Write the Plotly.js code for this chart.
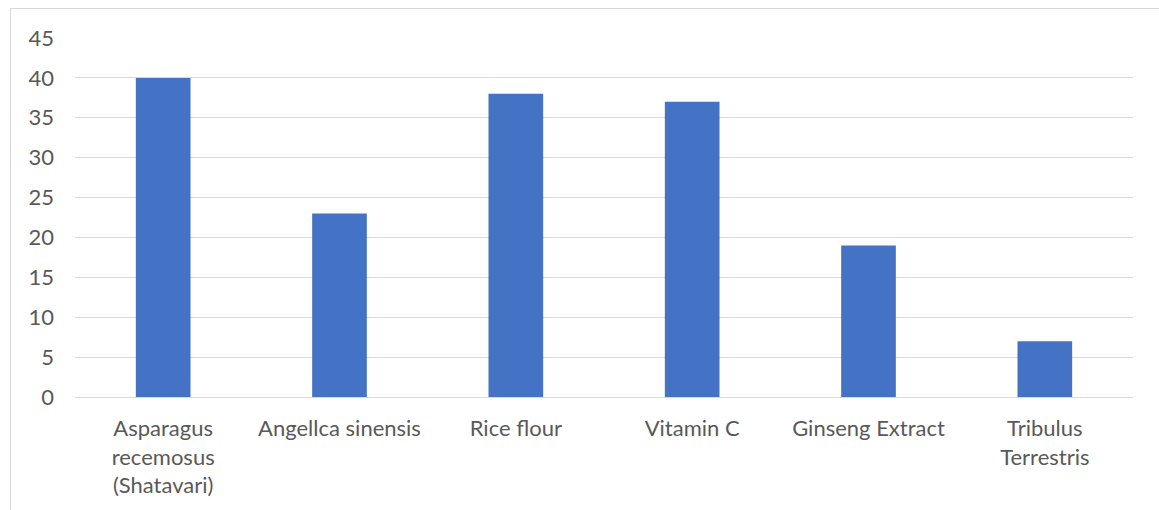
<!DOCTYPE html>
<html>
<head>
<meta charset="utf-8">
<script src="https://cdn.plot.ly/plotly-3.0.1.min.js"></script>
<style>
  html, body { margin: 0; padding: 0; background: #ffffff; }
  #frame {
    position: absolute; left: 10px; top: 8px; width: 1160px; height: 520px;
    border: 1px solid #d9d9d9; box-sizing: border-box;
  }
  #chart { position: absolute; left: 0; top: 0; width: 1159px; height: 510px; }
</style>
</head>
<body>
<div id="frame"></div>
<div id="chart"></div>
<script>
// Ingredient names (line breaks as drawn under each bar)
const categories = [
  "Asparagus<br>recemosus<br>(Shatavari)",
  "Angellca sinensis",
  "Rice flour",
  "Vitamin C",
  "Ginseng Extract",
  "Tribulus<br>Terrestris"
];
// Value per ingredient
const values = [40, 23, 38, 37, 19, 7];
// Y-axis ticks
const yTicks = [0, 5, 10, 15, 20, 25, 30, 35, 40, 45];

const fontFamily = "Lato, 'Open Sans', sans-serif";
const textColor = "#595959";
const gridColor = "#d9d9d9";

const trace = {
  type: "bar",
  x: categories,
  y: values,
  marker: { color: "#4472c4", line: { width: 0 } },
  hoverinfo: "x+y"
};

const layout = {
  width: 1159,
  height: 510,
  margin: { l: 75, r: 26, t: 38, b: 113, pad: 0 },
  paper_bgcolor: "rgba(0,0,0,0)",
  plot_bgcolor: "rgba(0,0,0,0)",
  showlegend: false,
  bargap: 0.69,
  font: { family: fontFamily, size: 22, color: textColor },
  xaxis: {
    type: "category",
    showgrid: false,
    showline: false,
    zeroline: false,
    ticks: "",
    tickfont: { family: fontFamily, size: 22, color: textColor },
    ticklabelstandoff: 16
  },
  yaxis: {
    range: [0, 45],
    tickmode: "array",
    tickvals: yTicks,
    ticktext: yTicks.map(String),
    showgrid: true,
    gridcolor: gridColor,
    gridwidth: 1,
    zeroline: true,
    zerolinecolor: gridColor,
    zerolinewidth: 1,
    showline: false,
    ticks: "",
    tickfont: { family: fontFamily, size: 22, color: textColor },
    ticklabelstandoff: 20
  }
};

Plotly.newPlot("chart", [trace], layout, { displayModeBar: false, staticPlot: true });
</script>
</body>
</html>
